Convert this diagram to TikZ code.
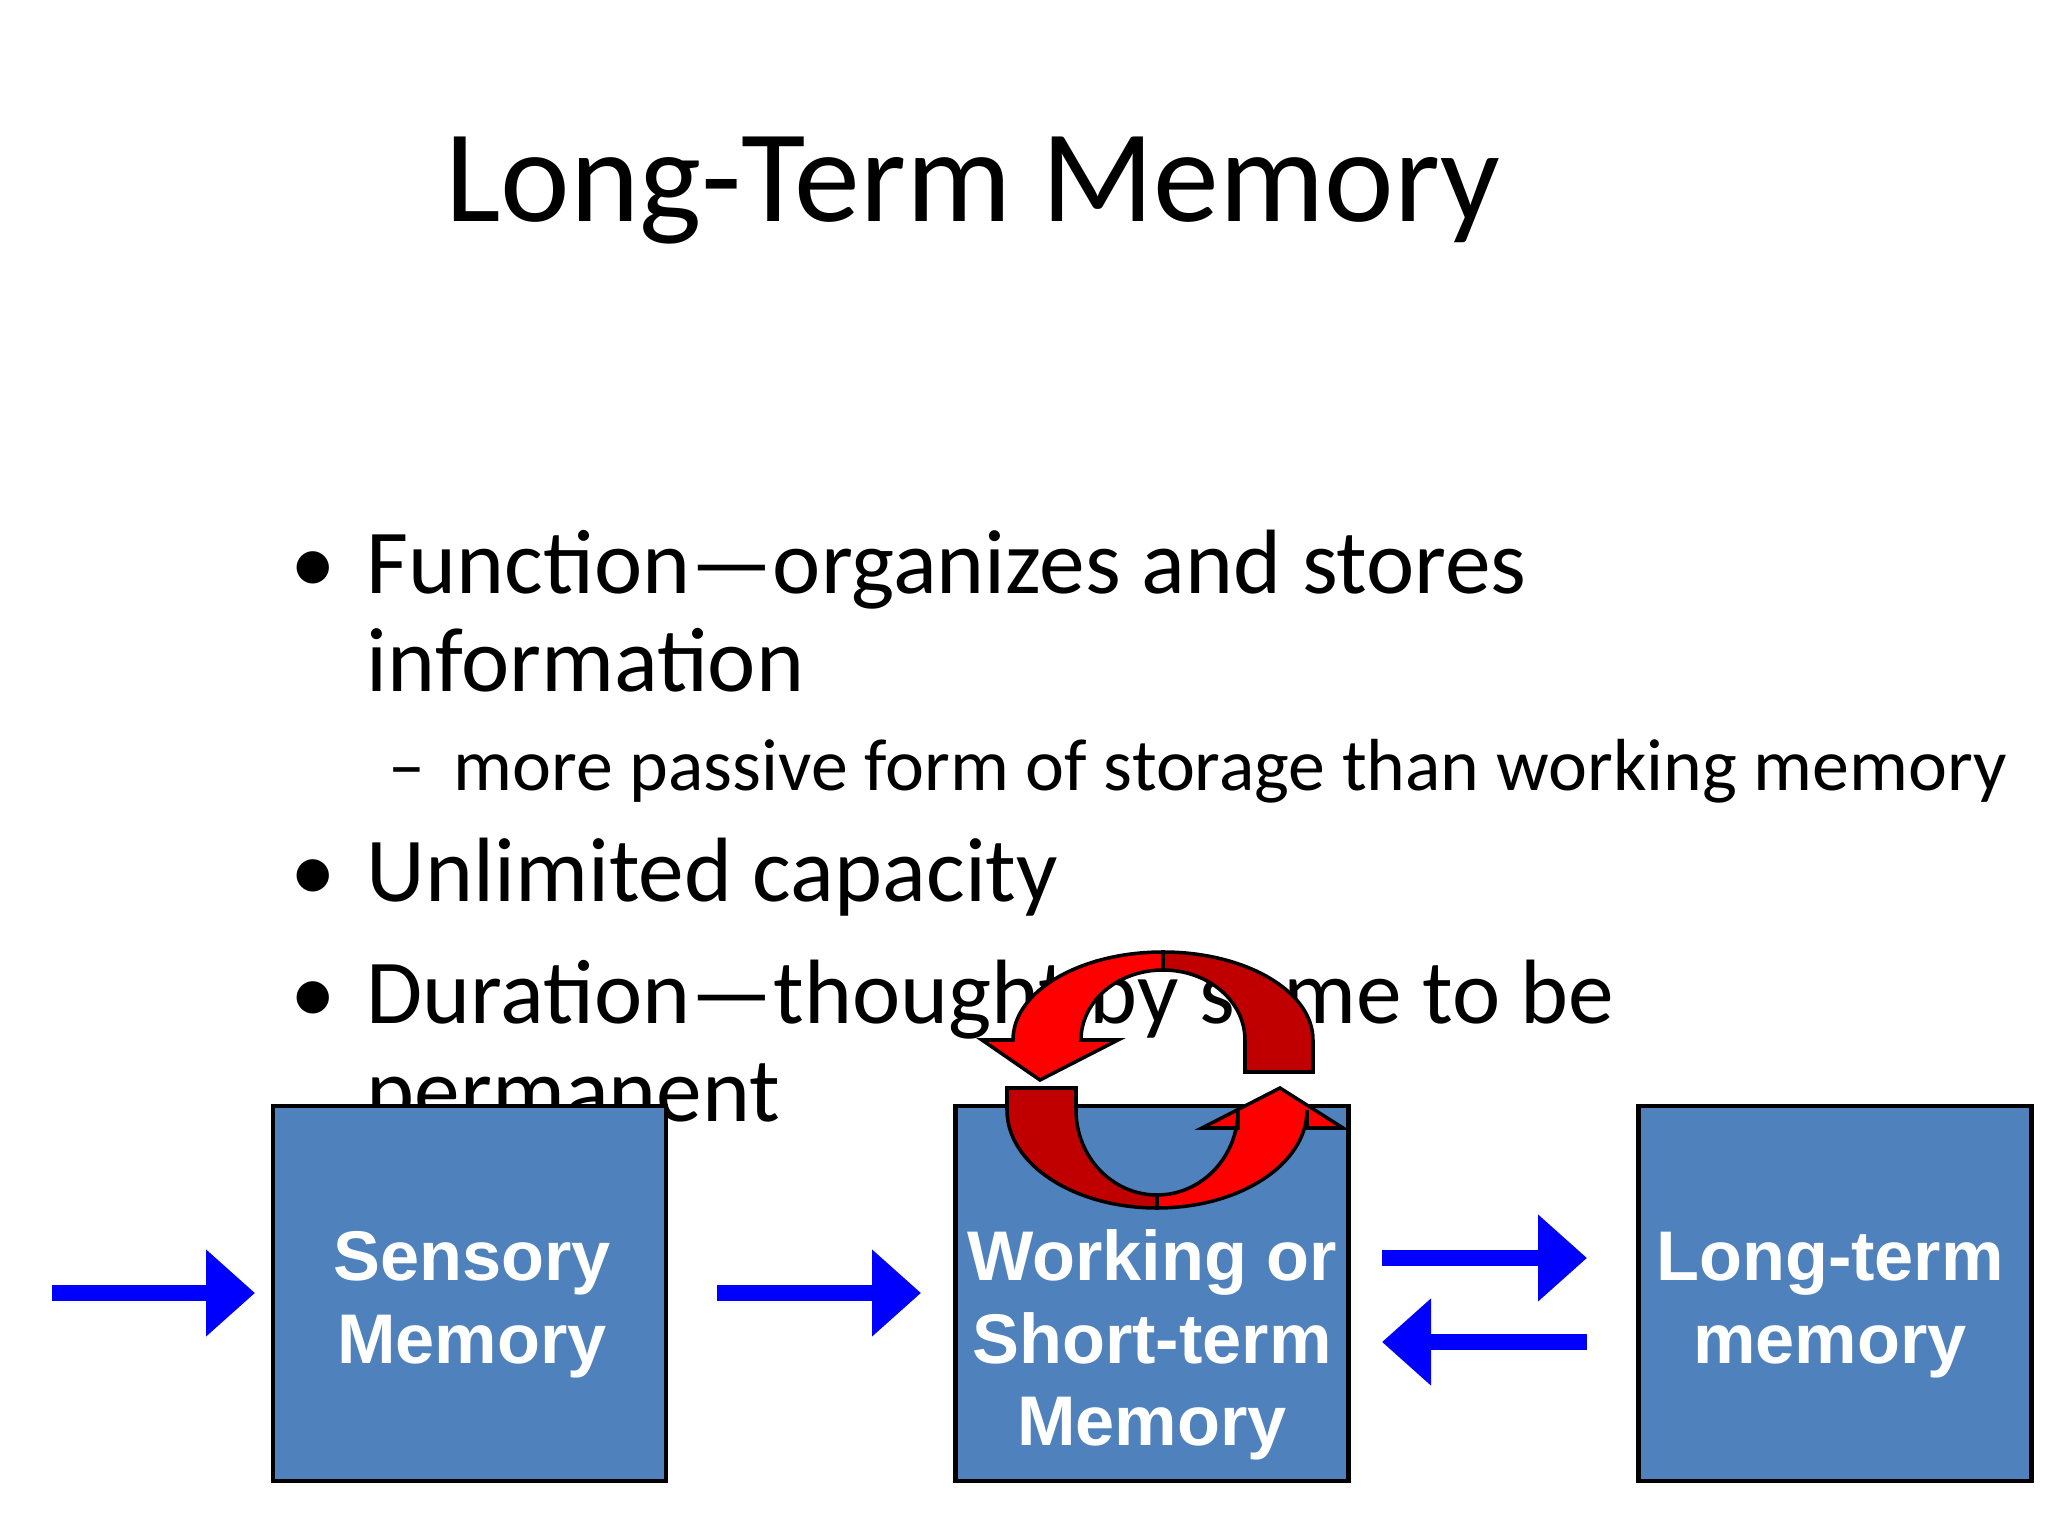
\documentclass[tikz,border=0pt]{standalone}
\usepackage{fontspec}
\setmainfont{Carlito}
\newfontfamily\arialf{Liberation Sans}
\usetikzlibrary{arrows.meta}
\definecolor{boxblue}{HTML}{4F81BD}
\definecolor{dred}{HTML}{C00000}
\tikzset{
  mbox/.style={draw=black,line width=1.2pt,fill=boxblue,minimum width=3.93cm,minimum height=3.75cm,inner sep=0pt},
  mlabel/.style={text=white,font=\arialf\bfseries\fontsize{20}{23.5}\selectfont,align=center},
  barrow/.style={draw=blue,line width=0.16cm,-{Triangle[length=0.49cm,width=0.84cm]}},
  btext/.style={anchor=base west,font=\fontsize{26}{31}\selectfont,inner sep=0pt},
  stext/.style={anchor=base west,font=\fontsize{21}{25}\selectfont,inner sep=0pt},
  redarr/.style={draw=black,line width=1pt}
}
\begin{document}
\begin{tikzpicture}
\useasboundingbox (0,0) rectangle (20.48,-15.36);
\node[anchor=base,font=\fontsize{37.5}{45}\selectfont,inner sep=0pt] (title) at (9.73,-2.22) {Long-Term Memory};
\node[btext] (b1d) at (2.90,-5.94) {•};
\node[btext] (b1) at (3.66,-5.94) {Function—organizes and stores};
\node[btext] (b1b) at (3.66,-6.92) {information};
\node[stext] (s1d) at (3.88,-7.90) {–};
\node[stext] (s1) at (4.53,-7.90) {more passive form of storage than working memory};
\node[btext] (b2d) at (2.90,-9.01) {•};
\node[btext] (b2) at (3.66,-9.01) {Unlimited capacity};
\node[btext] (b3d) at (2.90,-10.23) {•};
\node[btext] (b3) at (3.66,-10.23) {Duration—thought by some to be};
\node[btext] (b3b) at (3.66,-11.21) {permanent};

\node[mbox] (sens) at (4.695,-12.935) {};
\node[mbox] (work) at (11.52,-12.935) {};
\node[mbox] (ltm) at (18.35,-12.935) {};
\node[mlabel] (sensl) at (4.72,-13.05) {Sensory\\Memory};
\node[mlabel] (workl) at (11.52,-13.45) {Working or\\Short-term\\Memory};
\node[mlabel] (ltml) at (18.30,-13.05) {Long-term\\memory};

\coordinate (a1s) at (0.52,-12.93);
\coordinate (a2s) at (7.17,-12.93);
\draw[barrow] (a1s) -- (2.55,-12.93);
\draw[barrow] (a2s) -- (9.21,-12.93);
\draw[barrow] (13.82,-12.58) -- (15.87,-12.58);
\draw[barrow] (15.87,-13.42) -- (13.82,-13.42);

% top circular arrow
\path[redarr,fill=dred] (13.13,-10.72) -- (13.13,-10.40) arc[start angle=0,end angle=90,x radius=1.5cm,y radius=0.88cm] -- (11.63,-9.70) arc[start angle=90,end angle=0,x radius=0.82cm,y radius=0.70cm] -- (12.45,-10.72) -- cycle;
\path[redarr,fill=red] (11.63,-9.52) arc[start angle=90,end angle=180,x radius=1.5cm,y radius=0.88cm] -- (9.82,-10.40) -- (10.40,-10.80) -- (11.18,-10.40) -- (10.81,-10.40) arc[start angle=180,end angle=90,x radius=0.82cm,y radius=0.70cm] -- cycle;
% bottom circular arrow
\path[redarr,fill=dred] (10.07,-10.88) -- (10.07,-11.10) arc[start angle=180,end angle=270,x radius=1.5cm,y radius=0.98cm] -- (11.57,-11.95) arc[start angle=270,end angle=180,x radius=0.81cm,y radius=0.85cm] -- (10.76,-10.88) -- cycle;
\path[redarr,fill=red] (11.57,-12.08) arc[start angle=270,end angle=360,x radius=1.5cm,y radius=0.98cm] -- (13.07,-11.28) -- (13.43,-11.28) -- (12.80,-10.88) -- (12.02,-11.28) -- (12.38,-11.28) -- (12.38,-11.10) arc[start angle=0,end angle=-90,x radius=0.81cm,y radius=0.85cm] -- cycle;
\end{tikzpicture}
\end{document}
